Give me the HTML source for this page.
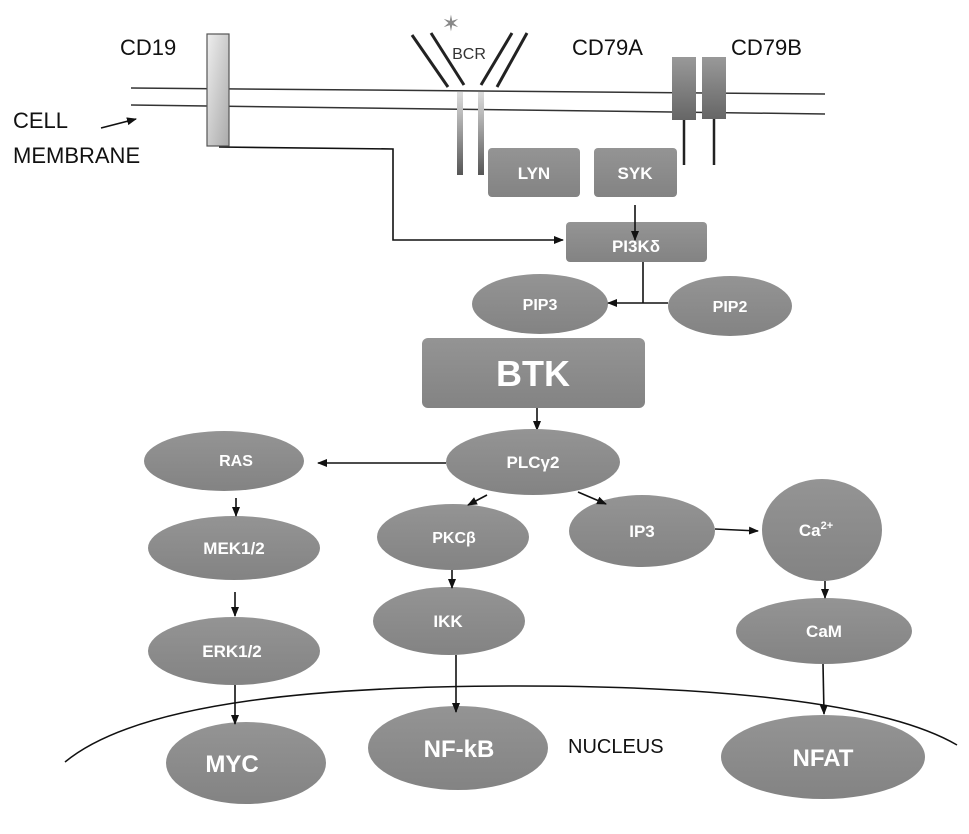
<!DOCTYPE html>
<html><head><meta charset="utf-8"><style>
html,body{margin:0;padding:0;background:#fff;}
svg{display:block;}
text{font-family:"Liberation Sans",sans-serif;}
.n{fill:url(#g);}
.t{fill:#fff;font-weight:bold;text-anchor:middle;}
.l{stroke:#111;stroke-width:1.6;fill:none;}
</style></head><body>
<svg width="969" height="834" viewBox="0 0 969 834" xmlns="http://www.w3.org/2000/svg">
<defs>
<linearGradient id="g" x1="0" y1="0" x2="0" y2="1"><stop offset="0" stop-color="#949494"/><stop offset="1" stop-color="#838383"/></linearGradient>
<linearGradient id="st" x1="0" y1="0" x2="0" y2="1"><stop offset="0" stop-color="#ddd"/><stop offset="1" stop-color="#555"/></linearGradient>
<linearGradient id="cd" x1="0" y1="0" x2="1" y2="1"><stop offset="0" stop-color="#eee"/><stop offset="1" stop-color="#aaa"/></linearGradient>
<linearGradient id="cd7" x1="0" y1="0" x2="0" y2="1"><stop offset="0" stop-color="#999"/><stop offset="1" stop-color="#666"/></linearGradient>
<marker id="a" markerWidth="10" markerHeight="10" refX="9" refY="5" orient="auto" markerUnits="userSpaceOnUse"><path d="M0,1 L10,5 L0,9 z" fill="#111"/></marker>
</defs>
<!-- membrane -->
<line x1="131" y1="88" x2="825" y2="94" stroke="#333" stroke-width="1.5"/>
<line x1="131" y1="105" x2="825" y2="114" stroke="#333" stroke-width="1.5"/>
<text x="13" y="128" font-size="22" fill="#111">CELL</text>
<text x="13" y="163" font-size="22" fill="#111">MEMBRANE</text>
<line x1="101" y1="128" x2="136" y2="119" class="l" marker-end="url(#a)"/>
<text x="120" y="55" font-size="22" fill="#111">CD19</text>
<polyline points="219,147 393,149 393,240 563,240" class="l" marker-end="url(#a)"/>
<rect x="207" y="34" width="22" height="112" fill="url(#cd)" stroke="#555" stroke-width="1.2"/>
<!-- BCR -->
<rect x="457" y="92" width="6" height="83" fill="url(#st)"/>
<rect x="478" y="92" width="6" height="83" fill="url(#st)"/>
<line x1="412" y1="35" x2="448" y2="87" stroke="#222" stroke-width="3"/>
<line x1="431" y1="33" x2="464" y2="85" stroke="#222" stroke-width="3"/>
<line x1="512" y1="33" x2="481" y2="85" stroke="#222" stroke-width="3"/>
<line x1="527" y1="33" x2="497" y2="87" stroke="#222" stroke-width="3"/>
<text x="451" y="31" font-size="22" fill="#888" text-anchor="middle">✶</text>
<text x="469" y="59" font-size="16" fill="#333" text-anchor="middle">BCR</text>
<text x="572" y="55" font-size="22" fill="#111">CD79A</text>
<text x="731" y="55" font-size="22" fill="#111">CD79B</text>
<line x1="684" y1="118" x2="684" y2="165" stroke="#222" stroke-width="2.5"/>
<line x1="714" y1="118" x2="714" y2="165" stroke="#222" stroke-width="2.5"/>
<rect x="672" y="57" width="24" height="63" fill="url(#cd7)"/>
<rect x="702" y="57" width="24" height="62" fill="url(#cd7)"/>
<rect x="488" y="148" width="92" height="49" rx="4" class="n"/>
<text x="534" y="179" font-size="17" class="t">LYN</text>
<rect x="594" y="148" width="83" height="49" rx="4" class="n"/>
<text x="635" y="179" font-size="17" class="t">SYK</text>
<rect x="566" y="222" width="141" height="40" rx="4" class="n"/>
<text x="636" y="252" font-size="17" class="t">PI3Kδ</text>
<line x1="635" y1="205" x2="635" y2="240" class="l" marker-end="url(#a)"/>
<ellipse cx="540" cy="304" rx="68" ry="30" class="n"/>
<text x="540" y="310" font-size="16" class="t">PIP3</text>
<ellipse cx="730" cy="306" rx="62" ry="30" class="n"/>
<text x="730" y="312" font-size="16" class="t">PIP2</text>
<line x1="643" y1="262" x2="643" y2="303" class="l"/>
<line x1="668" y1="303" x2="608" y2="303" class="l" marker-end="url(#a)"/>
<rect x="422" y="338" width="223" height="70" rx="6" class="n"/>
<text x="533" y="386" font-size="36" class="t">BTK</text>
<line x1="537" y1="408" x2="537" y2="430" class="l" marker-end="url(#a)"/>
<ellipse cx="533" cy="462" rx="87" ry="33" class="n"/>
<text x="533" y="468" font-size="17" class="t">PLCγ2</text>
<ellipse cx="224" cy="461" rx="80" ry="30" class="n"/>
<text x="236" y="466" font-size="16" class="t">RAS</text>
<line x1="446" y1="463" x2="318" y2="463" class="l" marker-end="url(#a)"/>
<ellipse cx="234" cy="548" rx="86" ry="32" class="n"/>
<text x="234" y="554" font-size="17" class="t">MEK1/2</text>
<ellipse cx="234" cy="651" rx="86" ry="34" class="n"/>
<text x="232" y="657" font-size="17" class="t">ERK1/2</text>
<ellipse cx="246" cy="763" rx="80" ry="41" class="n"/>
<text x="232" y="772" font-size="24" class="t">MYC</text>
<line x1="236" y1="498" x2="236" y2="516" class="l" marker-end="url(#a)"/>
<line x1="235" y1="592" x2="235" y2="616" class="l" marker-end="url(#a)"/>
<line x1="235" y1="685" x2="235" y2="724" class="l" marker-end="url(#a)"/>
<ellipse cx="453" cy="537" rx="76" ry="33" class="n"/>
<text x="454" y="543" font-size="16" class="t">PKCβ</text>
<ellipse cx="449" cy="621" rx="76" ry="34" class="n"/>
<text x="448" y="627" font-size="17" class="t">IKK</text>
<ellipse cx="458" cy="748" rx="90" ry="42" class="n"/>
<text x="459" y="757" font-size="24" class="t">NF-kB</text>
<line x1="487" y1="495" x2="468" y2="505" class="l" marker-end="url(#a)"/>
<line x1="452" y1="570" x2="452" y2="588" class="l" marker-end="url(#a)"/>
<line x1="456" y1="655" x2="456" y2="712" class="l" marker-end="url(#a)"/>
<ellipse cx="642" cy="531" rx="73" ry="36" class="n"/>
<text x="642" y="537" font-size="17" class="t">IP3</text>
<ellipse cx="822" cy="530" rx="60" ry="51" class="n"/>
<text x="816" y="536" font-size="17" class="t">Ca<tspan font-size="11" dy="-7">2+</tspan></text>
<ellipse cx="824" cy="631" rx="88" ry="33" class="n"/>
<text x="824" y="637" font-size="17" class="t">CaM</text>
<ellipse cx="823" cy="757" rx="102" ry="42" class="n"/>
<text x="823" y="766" font-size="24" class="t">NFAT</text>
<line x1="578" y1="492" x2="606" y2="504" class="l" marker-end="url(#a)"/>
<line x1="715" y1="529" x2="758" y2="531" class="l" marker-end="url(#a)"/>
<line x1="825" y1="581" x2="825" y2="598" class="l" marker-end="url(#a)"/>
<line x1="823" y1="664" x2="824" y2="714" class="l" marker-end="url(#a)"/>
<!-- nucleus -->
<path d="M65,762 C140,700 330,686 520,686 C700,686 880,700 957,745" stroke="#111" stroke-width="1.5" fill="none"/>
<text x="568" y="753" font-size="20" fill="#111">NUCLEUS</text>
</svg>
</body></html>
